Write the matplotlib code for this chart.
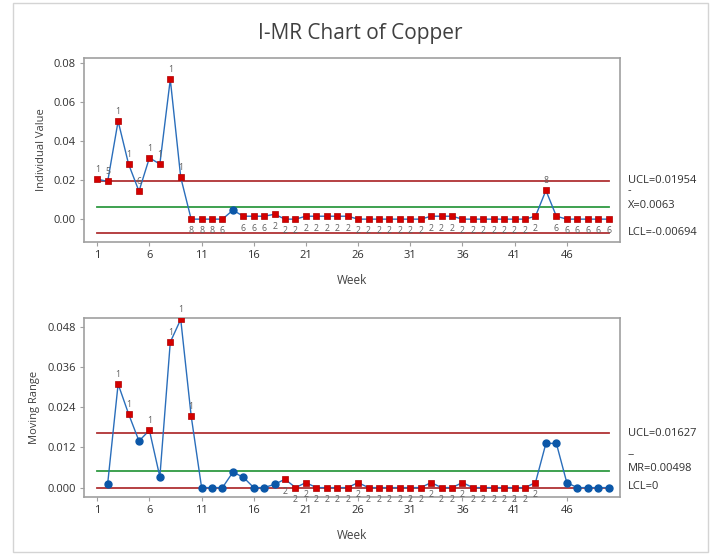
import numpy as np
import matplotlib
matplotlib.use("Agg")
import matplotlib.pyplot as plt
from matplotlib.patches import Rectangle

plt.rcParams['font.family'] = ['Open Sans', 'DejaVu Sans']

# weekly copper readings
weeks = np.arange(1, 51)
copper = [0.0205, 0.0193, 0.0502, 0.0282, 0.0143, 0.0314, 0.0282, 0.0716, 0.0214,
          0, 0, 0, 0,
          0.0046, 0.0015, 0.0015, 0.0015, 0.0025,
          0, 0,
          0.0015, 0.0015, 0.0015, 0.0015, 0.0015,
          0, 0, 0, 0, 0, 0, 0,
          0.0015, 0.0015, 0.0015,
          0, 0, 0, 0, 0, 0, 0,
          0.0015, 0.0147, 0.0015,
          0, 0, 0, 0, 0]
# test flags on the individuals chart ('' = in control)
i_flags = ['1', '5', '1', '1', '6', '1', '1', '1', '1',
           '8', '8', '8', '6', '', '6', '6', '6'] + ['2'] * 26 + ['8'] + ['6'] * 6

# moving ranges, weeks 2..50
mr_weeks = np.arange(2, 51)
moving_range = [0.0012, 0.0309, 0.0220, 0.0139, 0.0171, 0.0032, 0.0434, 0.0502, 0.0214,
                0, 0, 0, 0.0046, 0.0031, 0, 0, 0.0010, 0.0025,
                0, 0.0015, 0, 0, 0, 0, 0.0015, 0, 0, 0, 0, 0, 0, 0.0015,
                0, 0, 0.0015, 0, 0, 0, 0, 0, 0, 0.0015, 0.0132, 0.0132, 0.0015,
                0, 0, 0, 0]
mr_flags = ['', '1', '1', '', '1', '', '1', '1', '1'] + [''] * 8 + ['2'] * 25 + [''] * 7

i_ucl, i_mean, i_lcl = 0.01954, 0.0063, -0.00694
mr_ucl, mr_mean, mr_lcl = 0.01627, 0.00498, 0.0

line_blue = '#2a6ebb'
dot_blue = '#0b57a8'
flag_red = '#d40000'
limit_red = '#b03234'
center_green = '#2f9a42'
spine_gray = '#a0a0a0'

fig = plt.figure(figsize=(7.14, 5.54), dpi=100)
fig.patches.append(Rectangle((13 / 714, 2 / 554), 695 / 714, 549 / 554, transform=fig.transFigure,
                             fill=False, edgecolor='#d4d4d4', linewidth=1))
fig.text(0.505, 0.94, 'I-MR Chart of Copper', ha='center', va='center', fontsize=15, color='#404040')

ax1 = fig.add_axes([84 / 714, 1 - 242 / 554, 536 / 714, 184 / 554])
ax2 = fig.add_axes([84 / 714, 1 - 497 / 554, 536 / 714, 179 / 554])


def control_panel(ax, x, y, flags, ucl, mean, lcl, labels, ylabel, ylim, yticks, yfmt):
    x = np.asarray(x)
    y = np.asarray(y)
    ax.plot([1, 50], [ucl, ucl], color=limit_red, lw=1.3, zorder=1)
    ax.plot([1, 50], [lcl, lcl], color=limit_red, lw=1.3, zorder=1)
    ax.plot([1, 50], [mean, mean], color=center_green, lw=1.3, zorder=1)
    ax.plot(x, y, color=line_blue, lw=1.0, zorder=2)
    bad = np.array([f != '' for f in flags])
    ax.plot(x[~bad], y[~bad], 'o', color=dot_blue, ms=5, mec=dot_blue, zorder=3)
    ax.plot(x[bad], y[bad], 's', color=flag_red, ms=5, mec='#b00000', mew=0.5, zorder=3)
    for xi, yi, f in zip(x, y, flags):
        if not f:
            continue
        dy = 7 if f in ('1', '5') or (f == '8' and yi > mean) or (f == '6' and yi > 0.01) else -8.5
        ax.annotate(f, (xi, yi), xytext=(0, dy), textcoords='offset points', ha='center',
                    va='center', fontsize=6.3, color='#606060', zorder=4)

    ax.set_xlim(-0.27, 51.1)
    ax.set_ylim(*ylim)
    ax.set_xticks(np.arange(1, 47, 5))
    ax.set_yticks(yticks)
    ax.set_yticklabels([yfmt % v for v in yticks])
    ax.set_xlabel('Week', fontsize=8.5, color='#404040', labelpad=9)
    ax.set_ylabel(ylabel, fontsize=8, color='#404040', labelpad=5)
    ax.tick_params(direction='out', length=3, width=0.8, color=spine_gray, labelsize=8,
                   labelcolor='#303030', pad=3)
    for s in ax.spines.values():
        s.set_color(spine_gray)
        s.set_linewidth(1.2)

    tr = ax.get_yaxis_transform()
    for text, yv, dpx in labels:
        ax.annotate(text, (1.015, yv), xycoords=tr, xytext=(0, dpx), textcoords='offset pixels',
                    ha='left', va='center', fontsize=8, color='#303030', annotation_clip=False)


control_panel(ax1, weeks, copper, i_flags, i_ucl, i_mean, i_lcl,
              [('UCL=0.01954', i_ucl, 0), ('-', i_mean, 16), ('X=0.0063', i_mean, 1),
               ('LCL=-0.00694', i_lcl, 0)],
              'Individual Value', (-0.0117, 0.0825), [0.0, 0.02, 0.04, 0.06, 0.08], '%.2f')
control_panel(ax2, mr_weeks, moving_range, mr_flags, mr_ucl, mr_mean, mr_lcl,
              [('UCL=0.01627', mr_ucl, 0), ('--', mr_mean, 16), ('MR=0.00498', mr_mean, 2),
               ('LCL=0', mr_lcl, 1)],
              'Moving Range', (-0.0028, 0.0506), [0.0, 0.012, 0.024, 0.036, 0.048], '%.3f')

fig.savefig('out.png', dpi=100)
